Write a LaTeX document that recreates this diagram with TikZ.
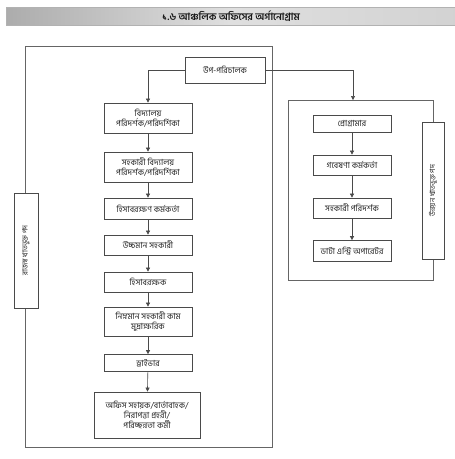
\documentclass[tikz,border=0pt]{standalone}
\usepackage{fontspec}
\newfontfamily\bn[Script=Bengali]{Hind Siliguri}
\newfontfamily\bnb[Script=Bengali]{Hind Siliguri SemiBold}
\usetikzlibrary{arrows.meta}
\definecolor{ln}{HTML}{4a4a4a}
\definecolor{tx}{HTML}{222222}
\tikzset{
  post/.style={draw=ln, line width=0.7pt, fill=white, align=center, inner sep=1pt,
    font=\bn\fontsize{8.4}{10}\selectfont, text=tx},
  lbox/.style={post, minimum width=88pt},
  rbox/.style={post, minimum width=78pt},
  side/.style={draw=ln, line width=0.7pt, fill=white, inner sep=1pt},
  sidetext/.style={font=\bn\fontsize{7.4}{9}\selectfont, text=tx, rotate=90},
  frame/.style={draw=ln!85, line width=0.7pt},
  arr/.style={draw=ln, line width=0.6pt, -{Triangle[length=4pt,width=4pt]}}
}
\begin{document}
\begin{tikzpicture}[x=1pt,y=-1pt]
\useasboundingbox (0,0) rectangle (455,459);
\fill[white] (0,0) rectangle (455,459);
% title bar
\shade[left color=gray!65, right color=gray!35, middle color=gray!25] (6,7) rectangle (455,25);
\draw[gray!60, line width=0.4pt] (6,7) rectangle (455,25);
\node[font=\bnb\fontsize{10}{12}\selectfont, text=black!90] (title) at (231,16) {১.৬ আঞ্চলিক অফিসের অর্গানোগ্রাম};
% frames
\draw[frame] (25,46) rectangle (272,447);
\draw[frame] (288,100) rectangle (433,280);
% top node
\node[post, minimum width=80pt, minimum height=26pt] (dd) at (225,70) {উপ-পরিচালক};
% left column
\node[lbox, minimum height=30pt] (b1) at (148,118) {বিদ্যালয়\\পরিদর্শক/পরিদর্শিকা};
\node[lbox, minimum height=30pt] (b2) at (148,167) {সহকারী বিদ্যালয়\\পরিদর্শক/পরিদর্শিকা};
\node[lbox, minimum height=21pt] (b3) at (148,208.5) {হিসাবরক্ষণ কর্মকর্তা};
\node[lbox, minimum height=20pt] (b4) at (148,245) {উচ্চমান সহকারী};
\node[lbox, minimum height=20pt] (b5) at (148,282) {হিসাবরক্ষক};
\node[lbox, minimum height=29pt] (b6) at (148,321.5) {নিম্নমান সহকারী কাম\\মুদ্রাক্ষরিক};
\node[lbox, minimum height=17pt] (b7) at (148,363) {ড্রাইভার};
\node[post, minimum width=106pt, minimum height=46pt] (b8) at (147,415) {অফিস সহায়ক/বার্তাবাহক/\\নিরাপত্তা প্রহরী/\\পরিচ্ছন্নতা কর্মী};
% right column
\node[rbox, minimum height=17pt] (p1) at (352,123.5) {প্রোগ্রামার};
\node[rbox, minimum height=20pt] (p2) at (352,165) {গবেষণা কর্মকর্তা};
\node[rbox, minimum height=20pt] (p3) at (352,208) {সহকারী পরিদর্শক};
\node[rbox, minimum height=21pt] (p4) at (352,251) {ডাটা এন্ট্রি অপারেটর};
% side labels
\node[side, minimum width=24pt, minimum height=115pt] (sl) at (26,250.5) {};
\node[sidetext] (slt) at (sl.center) {রাজস্ব খাতভুক্ত পদ};
\node[side, minimum width=22pt, minimum height=137pt] (sr) at (433,190.5) {};
\node[sidetext] (srt) at (sr.center) {উন্নয়ন খাতভুক্ত পদ};
% connectors
\coordinate (gtop) at (353,100);
\draw[arr] (dd.west) -| (b1.north);
\draw[arr] (dd.east) -| (gtop);
\draw[arr] (b1) -- (b2);
\draw[arr] (b2) -- (b3);
\draw[arr] (b3) -- (b4);
\draw[arr] (b4) -- (b5);
\draw[arr] (b5) -- (b6);
\draw[arr] (b6) -- (b7);
\draw[arr] (b7) -- (b8);
\draw[arr] (p1) -- (p2);
\draw[arr] (p2) -- (p3);
\draw[arr] (p3) -- (p4);
\end{tikzpicture}
\end{document}
